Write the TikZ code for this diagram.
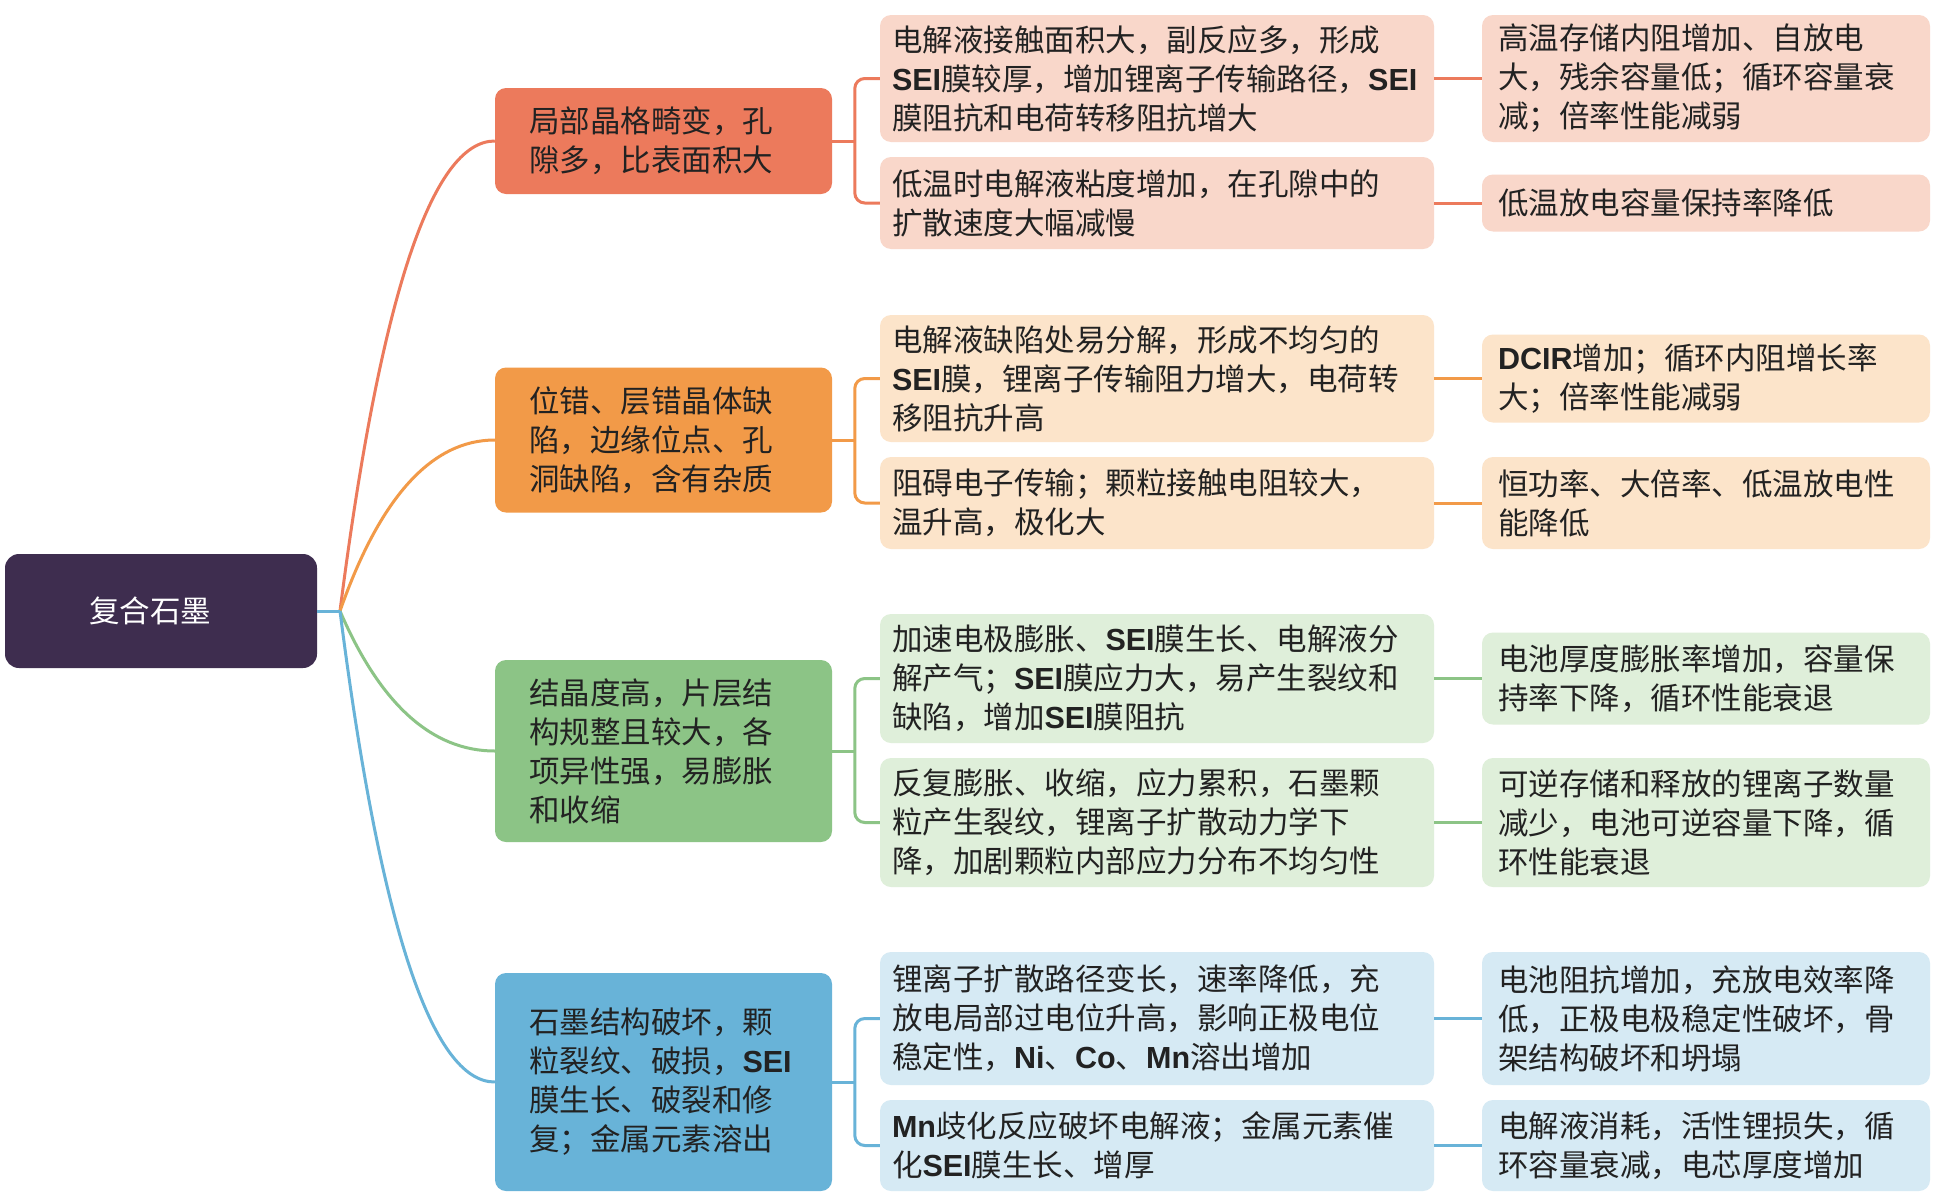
\documentclass[tikz,border=0pt]{standalone}
\usepackage{fontspec}
\setmainfont{Noto Sans CJK SC}
\newfontfamily\latf{Liberation Sans}
\newcommand\LatW[1]{{\latf\bfseries #1}}
\definecolor{rootC}{HTML}{3E2D4F}
\definecolor{redC}{HTML}{EC7A5C}
\definecolor{redL}{HTML}{F9D7CA}
\definecolor{oraC}{HTML}{F29A48}
\definecolor{oraL}{HTML}{FCE4CA}
\definecolor{grnC}{HTML}{8CC486}
\definecolor{grnL}{HTML}{DFEFDA}
\definecolor{bluC}{HTML}{68B3D8}
\definecolor{bluL}{HTML}{D6EAF4}
\definecolor{txtC}{HTML}{222222}
\begin{document}
\begin{tikzpicture}[x=1pt,y=-1pt,
  box/.style={rounded corners=11pt, inner ysep=0pt, align=left, text=txtC,
    font=\fontsize{30.5}{39}\selectfont},
  br/.style={box, text width=269pt, inner xsep=34pt},
  mid/.style={box, text width=530pt, inner xsep=12pt},
  rt/.style={box, text width=416pt, inner xsep=16pt},
  conn/.style={line width=3pt},
  ]
\useasboundingbox (0,0) rectangle (1942,1202);
\fill[white] (0,0) rectangle (1942,1202);

% root
\node[rounded corners=14pt, fill=rootC, minimum width=312pt, minimum height=114pt,
  text=white, font=\fontsize{30.5}{39}\selectfont] (root) at (161,611) {复合石墨\hspace*{22pt}};
\coordinate (J) at (340,611);

% branches
\node[br, fill=redC, minimum height=106pt] (b1) at (663.5,141) {局部晶格畸变，孔\\隙多，比表面积大};
\node[br, fill=oraC, minimum height=145pt] (b2) at (663.5,440) {位错、层错晶体缺\\陷，边缘位点、孔\\洞缺陷，含有杂质};
\node[br, fill=grnC, minimum height=182pt] (b3) at (663.5,751) {结晶度高，片层结\\构规整且较大，各\\项异性强，易膨胀\\和收缩};
\node[br, fill=bluC, minimum height=218pt] (b4) at (663.5,1082) {石墨结构破坏，颗\\粒裂纹、破损，\LatW{SEI}\\膜生长、破裂和修\\复；金属元素溶出};

% middle leaves
\node[mid, fill=redL, minimum height=127pt] (l1a) at (1157,78.5) {电解液接触面积大，副反应多，形成\\\LatW{SEI}膜较厚，增加锂离子传输路径，\LatW{SEI}\\膜阻抗和电荷转移阻抗增大};
\node[mid, fill=redL, minimum height=92pt] (l1b) at (1157,203) {低温时电解液粘度增加，在孔隙中的\\扩散速度大幅减慢};
\node[mid, fill=oraL, minimum height=127pt] (l2a) at (1157,378.5) {电解液缺陷处易分解，形成不均匀的\\\LatW{SEI}膜，锂离子传输阻力增大，电荷转\\移阻抗升高};
\node[mid, fill=oraL, minimum height=92pt] (l2b) at (1157,503) {阻碍电子传输；颗粒接触电阻较大，\\温升高，极化大};
\node[mid, fill=grnL, minimum height=129pt] (l3a) at (1157,678.5) {加速电极膨胀、\LatW{SEI}膜生长、电解液分\\解产气；\LatW{SEI}膜应力大，易产生裂纹和\\缺陷，增加\LatW{SEI}膜阻抗};
\node[mid, fill=grnL, minimum height=129pt] (l3b) at (1157,822.5) {反复膨胀、收缩，应力累积，石墨颗\\粒产生裂纹，锂离子扩散动力学下\\降，加剧颗粒内部应力分布不均匀性};
\node[mid, fill=bluL, minimum height=133pt] (l4a) at (1157,1018.5) {锂离子扩散路径变长，速率降低，充\\放电局部过电位升高，影响正极电位\\稳定性，\LatW{Ni}、\LatW{Co}、\LatW{Mn}溶出增加};
\node[mid, fill=bluL, minimum height=91pt] (l4b) at (1157,1145.5) {\LatW{Mn}歧化反应破坏电解液；金属元素催\\化\LatW{SEI}膜生长、增厚};

% right leaves
\node[rt, fill=redL, minimum height=127pt] (r1a) at (1706,78.5) {高温存储内阻增加、自放电\\大，残余容量低；循环容量衰\\减；倍率性能减弱};
\node[rt, fill=redL, minimum height=57pt] (r1b) at (1706,203) {低温放电容量保持率降低};
\node[rt, fill=oraL, minimum height=88pt] (r2a) at (1706,378.5) {\LatW{DCIR}增加；循环内阻增长率\\大；倍率性能减弱};
\node[rt, fill=oraL, minimum height=92pt] (r2b) at (1706,503) {恒功率、大倍率、低温放电性\\能降低};
\node[rt, fill=grnL, minimum height=92pt] (r3a) at (1706,678.5) {电池厚度膨胀率增加，容量保\\持率下降，循环性能衰退};
\node[rt, fill=grnL, minimum height=129pt] (r3b) at (1706,822.5) {可逆存储和释放的锂离子数量\\减少，电池可逆容量下降，循\\环性能衰退};
\node[rt, fill=bluL, minimum height=133pt] (r4a) at (1706,1018.5) {电池阻抗增加，充放电效率降\\低，正极电极稳定性破坏，骨\\架结构破坏和坍塌};
\node[rt, fill=bluL, minimum height=91pt] (r4b) at (1706,1145.5) {电解液消耗，活性锂损失，循\\环容量衰减，电芯厚度增加};

% root to branches
\draw[conn, redC] (J) .. controls +(40,-313) and +(-63,0) .. (b1.west);
\draw[conn, oraC] (J) .. controls +(40,-114) and +(-63,0) .. (b2.west);
\draw[conn, grnC] (J) .. controls +(40,93) and +(-63,0) .. (b3.west);
\draw[conn, bluC] (J) .. controls +(40,314) and +(-63,0) .. (b4.west);
\draw[conn, bluC] (root.east) -- (J);

% branch to middle leaves
\foreach \b/\a/\c/\col in {b1/l1a/l1b/redC, b2/l2a/l2b/oraC, b3/l3a/l3b/grnC, b4/l4a/l4b/bluC}{
  \draw[conn, \col] (\b.east) -- ++(23,0);
  \draw[conn, \col, rounded corners=10pt] (\a.west) -- ++(-25,0) |- (\c.west);
}

% middle to right leaves
\foreach \a/\c/\col in {l1a/r1a/redC, l1b/r1b/redC, l2a/r2a/oraC, l2b/r2b/oraC, l3a/r3a/grnC, l3b/r3b/grnC, l4a/r4a/bluC, l4b/r4b/bluC}{
  \draw[conn, \col] (\a.east) -- (\c.west);
}
\end{tikzpicture}
\end{document}
